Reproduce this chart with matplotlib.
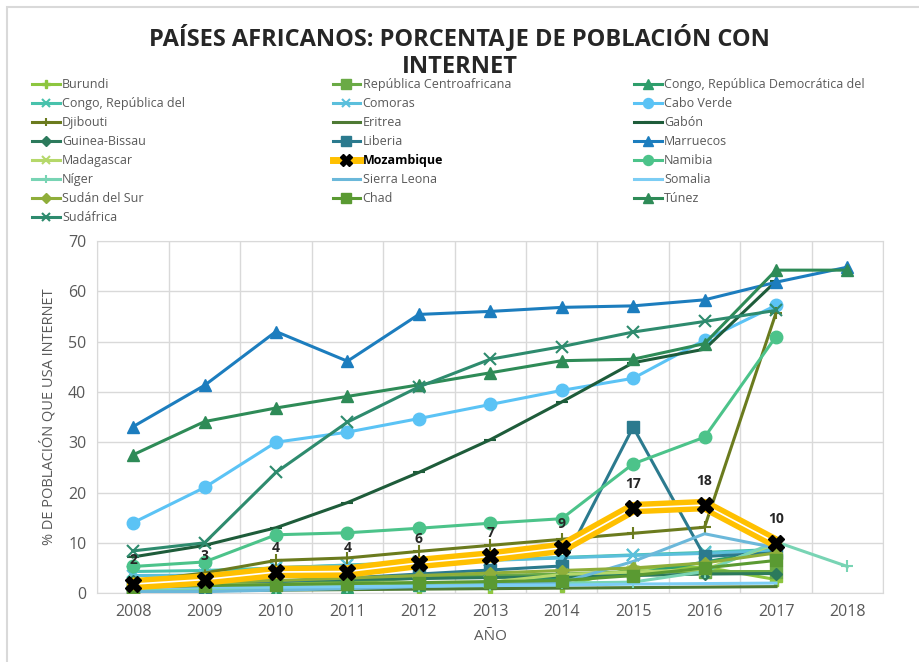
import numpy as np
import matplotlib.pyplot as plt
from matplotlib.lines import Line2D
from matplotlib.patches import Rectangle

plt.rcParams['font.family'] = ['Open Sans', 'DejaVu Sans']

years = ['2008', '2009', '2010', '2011', '2012', '2013', '2014', '2015', '2016', '2017', '2018']

burundi = [0.8, 0.9, 1.0, 1.1, 1.2, 1.3, 1.4, 4.9, 5.2, 2.7]
centroafricana = [1.0, 1.8, 2.0, 2.2, 3.0, 3.5, 3.8, 4.3, 4.3, 4.3]
congo_rdc = [0.4, 0.6, 0.7, 1.2, 1.7, 2.2, 3.0, 3.8, 6.2, 8.6]
congo_rep = [4.3, 4.5, 5.0, 5.6, 6.1, 6.6, 7.1, 7.6, 8.1, 8.7]
comoras = [3.5, 3.6, 5.1, 5.5, 6.0, 6.5, 7.0, 7.5, 7.9, 8.5]
cabo_verde = [14.0, 21.0, 30.0, 32.0, 34.7, 37.5, 40.3, 42.7, 50.3, 57.2]
djibouti = [2.3, 4.0, 6.5, 7.0, 8.3, 9.5, 10.7, 11.9, 13.1, 55.7]
eritrea = [0.4, 0.5, 0.6, 0.7, 0.8, 0.9, 1.0, 1.1, 1.2, 1.3]
gabon = [7.2, 9.5, 13.0, 18.0, 24.0, 30.5, 38.0, 45.8, 48.5, 62.0]
guinea_bissau = [2.35, 2.45, 2.45, 2.7, 2.9, 3.1, 3.3, 3.5, 3.8, 3.9]
liberia = [0.5, 0.5, 2.3, 3.0, 3.8, 4.6, 5.4, 33.0, 7.3, 8.0]
marruecos = [33.1, 41.3, 52.0, 46.1, 55.4, 56.0, 56.8, 57.1, 58.3, 61.8, 64.8]
madagascar = [1.6, 1.6, 1.7, 1.9, 2.1, 2.2, 3.7, 4.2, 4.7, 9.8]
mozambique = [1.8, 2.7, 4.2, 4.3, 6.0, 7.3, 9.0, 16.9, 17.5, 10.0]
namibia = [5.3, 6.2, 11.6, 12.0, 12.9, 13.9, 14.8, 25.7, 31.0, 51.0]
niger = [0.7, 0.8, 0.8, 1.3, 1.4, 1.7, 2.0, 2.2, 4.3, 10.2, 5.3]
sierra_leona = [0.3, 0.3, 0.6, 0.9, 1.3, 1.7, 2.1, 6.3, 11.8, 9.0]
somalia = [1.1, 1.2, 1.2, 1.3, 1.4, 1.5, 1.6, 1.8, 1.9, 2.0]
sudan_sur = [2.0, 2.2, 2.5, 3.0, 3.5, 4.0, 4.5, 5.0, 6.0, 8.0]
chad = [1.2, 1.5, 1.7, 1.9, 2.1, 2.3, 2.5, 3.5, 5.0, 6.5]
tunez = [27.5, 34.1, 36.8, 39.1, 41.4, 43.8, 46.2, 46.5, 49.6, 64.2, 64.2]
sudafrica = [8.4, 10.0, 24.0, 34.0, 41.0, 46.5, 49.0, 51.9, 54.0, 56.2]

# (name, values, colour, marker)
series = [
    ('Burundi', burundi, '#8DC63F', 'P'),
    ('República Centroafricana', centroafricana, '#6AAA45', 's'),
    ('Congo, República Democrática del', congo_rdc, '#2E9E6B', '^'),
    ('Congo, República del', congo_rep, '#48C2AC', 'x'),
    ('Comoras', comoras, '#5BBFDC', 'x'),
    ('Cabo Verde', cabo_verde, '#5BC3F5', 'o'),
    ('Djibouti', djibouti, '#6B7B1E', '+'),
    ('Eritrea', eritrea, '#4E7A34', None),
    ('Gabón', gabon, '#1E5C3A', '_'),
    ('Guinea-Bissau', guinea_bissau, '#2C7A5C', 'D'),
    ('Liberia', liberia, '#2B7A8E', 's'),
    ('Marruecos', marruecos, '#1C7DBE', '^'),
    ('Madagascar', madagascar, '#B5D86A', 'x'),
    ('Mozambique', mozambique, '#FFC000', 'X'),
    ('Namibia', namibia, '#4CC38A', 'o'),
    ('Níger', niger, '#78D4B4', '+'),
    ('Sierra Leona', sierra_leona, '#6BB8DA', None),
    ('Somalia', somalia, '#7CCDF4', None),
    ('Sudán del Sur', sudan_sur, '#8FAE3A', 'D'),
    ('Chad', chad, '#5A9A32', 's'),
    ('Túnez', tunez, '#2E8B57', '^'),
    ('Sudáfrica', sudafrica, '#2E8B6E', 'x'),
]

fig = plt.figure(figsize=(9.19, 6.62), dpi=100)
ax = fig.add_axes([0.106, 0.104, 0.855, 0.532])

handles = []
for name, vals, col, mk in series:
    x = np.arange(len(vals))
    if name == 'Mozambique':
        ax.plot(x, vals, color=col, lw=9, zorder=5, solid_capstyle='round')
        ax.plot(x, vals, color='white', lw=1.2, zorder=5)
        ax.plot(x, vals, ls='none', marker='X', ms=11, color='black', zorder=6)
        for xi, v in zip(x, vals):
            ax.annotate('%.0f' % v, (xi, v), xytext=(0, 12), textcoords='offset points',
                        ha='center', va='bottom', fontsize=10, fontweight='bold',
                        color='#262626', zorder=7)
        h = Line2D([], [], color=col, lw=5, marker='X', ms=9, mfc='black', mec='black')
    else:
        ms = 9 if mk in ('o', '^', 's') else 8
        if mk == 'D':
            ms = 6
        mew = 1.5 if mk in ('x', '+', '_') else 1
        ax.plot(x, vals, color=col, lw=2.2, marker=mk, ms=ms, mew=mew, zorder=3)
        h = Line2D([], [], color=col, lw=2.2, marker=mk, ms=ms * 0.8, mew=mew)
    handles.append((h, name))

ax.set_xlim(-0.5, 10.5)
ax.set_ylim(0, 70)
ax.set_xticks(np.arange(len(years)))
ax.set_xticklabels(years)
ax.set_xticks(np.arange(-0.5, 11, 1), minor=True)
ax.set_yticks(np.arange(0, 71, 10))
ax.tick_params(axis='both', which='both', length=0, labelsize=11.5, labelcolor='#595959', pad=8)
ax.grid(which='minor', axis='x', color='#D9D9D9', lw=1)
ax.grid(which='major', axis='y', color='#D9D9D9', lw=1)
ax.set_axisbelow(True)
for s in ax.spines.values():
    s.set_color('#D9D9D9')

ax.set_xlabel('AÑO', fontsize=11, color='#595959', labelpad=6)
ax.set_ylabel('% DE POBLACIÓN QUE USA INTERNET', fontsize=10.5, color='#595959', labelpad=8)

fig.text(0.5, 0.943, 'PAÍSES AFRICANOS: PORCENTAJE DE POBLACIÓN CON', ha='center', va='center',
         fontsize=17, fontweight='bold', color='#262626')
fig.text(0.5, 0.899, 'INTERNET', ha='center', va='center',
         fontsize=17, fontweight='bold', color='#262626')

# three legend columns, filled row by row
col_x = [0.035, 0.362, 0.690]
for c in range(3):
    items = handles[c::3]
    leg = fig.legend([h for h, n in items], [n for h, n in items], loc='upper left',
                     bbox_to_anchor=(col_x[c], 0.882), frameon=False, fontsize=9,
                     handlelength=2.2, handletextpad=0.2, labelspacing=0.48,
                     borderpad=0, borderaxespad=0)
    for t in leg.get_texts():
        t.set_color('#595959')
        if t.get_text() == 'Mozambique':
            t.set_color('black')
            t.set_fontweight('bold')

fig.patches.append(Rectangle((0.008, -0.05), 1.5, 1.039, transform=fig.transFigure,
                             fill=False, edgecolor='#D9D9D9', lw=1.5))

fig.savefig('out.png', dpi=100)
